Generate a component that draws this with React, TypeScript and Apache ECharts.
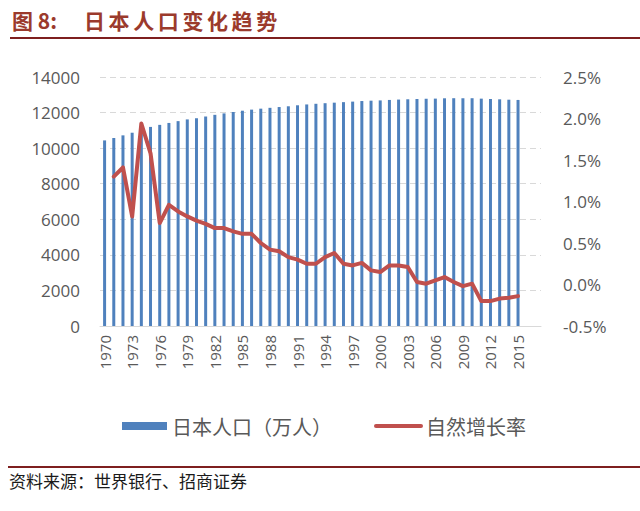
import React, { useEffect, useRef } from "react";
import * as echarts from "echarts";

const years = [
  "1970","1971","1972","1973","1974","1975","1976","1977","1978","1979",
  "1980","1981","1982","1983","1984","1985","1986","1987","1988","1989",
  "1990","1991","1992","1993","1994","1995","1996","1997","1998","1999",
  "2000","2001","2002","2003","2004","2005","2006","2007","2008","2009",
  "2010","2011","2012","2013","2014","2015","2016","2017",
];

// 日本人口（万人）
const population = [
  10435, 10570, 10719, 10867, 11016, 11194, 11309, 11417, 11519, 11616,
  11681, 11779, 11873, 11953, 12031, 12105, 12166, 12220, 12267, 12311,
  12354, 12410, 12457, 12494, 12527, 12557, 12586, 12616, 12649, 12669,
  12684, 12710, 12731, 12748, 12764, 12777, 12785, 12803, 12808, 12805,
  12807, 12783, 12763, 12745, 12724, 12710, null, null,
];

// 自然增长率 (%)
const growthRate = [
  null, 1.30, 1.41, 0.82, 1.94, 1.58, 0.74, 0.96, 0.88, 0.82,
  0.77, 0.73, 0.68, 0.68, 0.64, 0.61, 0.61, 0.50, 0.42, 0.40,
  0.33, 0.30, 0.25, 0.25, 0.33, 0.38, 0.25, 0.23, 0.26, 0.17,
  0.15, 0.23, 0.23, 0.21, 0.03, 0.01, 0.05, 0.09, 0.03, -0.02,
  0.01, -0.20, -0.20, -0.17, -0.16, -0.14, null, null,
];

const titleHead = "图 8:";
const titleChars = "日本人口变化趋势";
const sourceText = "资料来源：世界银行、招商证券";
const seriesNames = ["日本人口（万人）", "自然增长率"];

export default function App() {
  const ref = useRef<HTMLDivElement>(null);
  useEffect(() => {
    if (!ref.current) return;
    const chart = echarts.init(ref.current, null, { renderer: "svg" });
    const titleColor = "#9B3A2C";
    const ruleColor = "#7E1F1F";
    const titleGraphics: any[] = titleChars.split("").map((c, i) => ({
      type: "text",
      x: 84 + i * 24.6,
      y: 9,
      style: {
        text: c,
        fontSize: 21,
        fontWeight: "bold",
        fontFamily: "Noto Sans CJK SC",
        fill: titleColor,
      },
    }));
    chart.setOption({
      animation: false,
      backgroundColor: "#ffffff",
      textStyle: { fontFamily: "Open Sans" },
      grid: { left: 100, right: 99, top: 77, bottom: 185, containLabel: false },
      legend: {
        left: 117,
        top: 411,
        itemWidth: 45,
        itemHeight: 8,
        itemGap: 42,
        textStyle: { fontSize: 20, color: "#595959", fontFamily: "Noto Sans CJK SC" },
        data: [
          { name: seriesNames[0], icon: "rect" },
          {
            name: seriesNames[1],
            itemStyle: { opacity: 0, borderWidth: 0 },
            lineStyle: { width: 4, color: "#C0504D", cap: "round" },
          },
        ],
      },
      xAxis: {
        type: "category",
        data: years,
        boundaryGap: true,
        axisLine: { lineStyle: { color: "#D9D9D9", width: 1 } },
        axisTick: { show: false },
        axisLabel: {
          rotate: 90,
          interval: 2,
          fontSize: 15,
          color: "#595959",
          margin: 9,
        },
      },
      yAxis: [
        {
          type: "value",
          min: 0,
          max: 14000,
          interval: 2000,
          axisLine: { show: false },
          axisTick: { show: false },
          axisLabel: {
            fontSize: 17,
            color: "#595959",
            margin: 20,
            formatter: (v: number) => String(v),
          },
          splitLine: { lineStyle: { color: "#D9D9D9", type: [6, 4], width: 1 } },
        },
        {
          type: "value",
          min: -0.5,
          max: 2.5,
          interval: 0.5,
          axisLine: { show: false },
          axisTick: { show: false },
          splitLine: { show: false },
          axisLabel: {
            fontSize: 17,
            color: "#595959",
            margin: 22,
            formatter: (v: number) => v.toFixed(1) + "%",
          },
        },
      ],
      series: [
        {
          name: seriesNames[0],
          type: "bar",
          data: population,
          barWidth: 3,
          itemStyle: { color: "#4F81BD" },
          yAxisIndex: 0,
        },
        {
          name: seriesNames[1],
          type: "line",
          data: growthRate,
          yAxisIndex: 1,
          symbol: "none",
          showSymbol: false,
          connectNulls: false,
          lineStyle: { color: "#C0504D", width: 4, cap: "round", join: "round" },
          itemStyle: { color: "#C0504D" },
        },
      ],
      graphic: [
        {
          type: "text",
          x: 12,
          y: 9,
          style: {
            text: titleHead,
            fontSize: 21,
            fontWeight: "bold",
            fontFamily: "Noto Sans CJK SC",
            fill: titleColor,
          },
        },
        ...titleGraphics,
        {
          type: "line",
          shape: { x1: 10, y1: 38, x2: 640, y2: 38 },
          style: { stroke: ruleColor, lineWidth: 2 },
        },
        {
          type: "line",
          shape: { x1: 8, y1: 467, x2: 640, y2: 467 },
          style: { stroke: ruleColor, lineWidth: 2 },
        },
        {
          type: "text",
          x: 9,
          y: 472,
          style: {
            text: sourceText,
            fontSize: 17,
            fontFamily: "Noto Sans CJK SC",
            fill: "#1a1a1a",
          },
        },
      ],
    });
    return () => chart.dispose();
  }, []);
  return (
    <div
      ref={ref}
      style={{ position: "fixed", left: 0, top: 0, width: 640, height: 511, background: "#fff" }}
    />
  );
}
